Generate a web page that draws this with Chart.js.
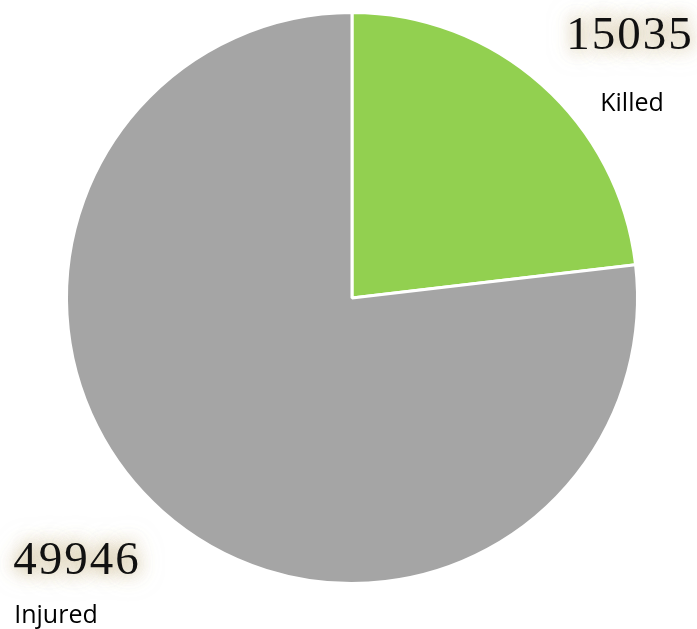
<!DOCTYPE html>
<html>
<head>
<meta charset="utf-8">
<script src="https://cdn.jsdelivr.net/npm/chart.js@4"></script>
<style>
  html, body { margin: 0; padding: 0; background: #ffffff; }
  #casualties { display: block; }
</style>
</head>
<body>
<canvas id="casualties" width="697" height="629"></canvas>
<script>
const categories = ["Killed", "Injured"]
const counts = [15035, 49946]
const slice_colors = ["#92d050", "#a5a5a5"]

// value + caption for each slice, placed around the pie
const label_spots = [
    {x: 630, y: 37, cap_x: 632, cap_y: 104},
    {x: 77, y: 562, cap_x: 56, cap_y: 616}
]

const sliceLabels = {
    id: 'sliceLabels',
    afterDraw(chart) {
        const ctx = chart.ctx
        const values = chart.data.datasets[0].data
        ctx.save()
        ctx.textAlign = 'center'
        ctx.textBaseline = 'middle'
        values.forEach((value, i) => {
            const spot = label_spots[i]
            const text = String(value)
            ctx.font = '47px "Liberation Serif", serif'
            ctx.letterSpacing = '2px'
            // beige glow: text drawn off canvas, only its shadow lands here
            ctx.fillStyle = '#000000'
            ctx.shadowOffsetX = 2000
            ctx.shadowColor = 'rgba(205, 190, 150, 0.6)'
            ctx.shadowBlur = 26
            ctx.fillText(text, spot.x - 2000, spot.y)
            ctx.shadowColor = 'rgba(205, 190, 150, 0.75)'
            ctx.shadowBlur = 16
            ctx.fillText(text, spot.x - 2000, spot.y)
            ctx.fillText(text, spot.x - 2000, spot.y)
            ctx.shadowBlur = 0
            ctx.shadowOffsetX = 0
            ctx.shadowColor = 'transparent'
            ctx.fillStyle = '#111111'
            ctx.fillText(text, spot.x, spot.y)

            ctx.letterSpacing = '0px'
            ctx.font = '25px "Open Sans", sans-serif'
            ctx.fillStyle = '#000000'
            ctx.fillText(chart.data.labels[i], spot.cap_x, spot.cap_y)
        })
        ctx.restore()
    }
}

new Chart(document.getElementById('casualties'), {
    type: 'pie',
    data: {
        labels: categories,
        datasets: [{
            data: counts,
            backgroundColor: slice_colors,
            borderColor: '#ffffff',
            borderWidth: 3,
            hoverOffset: 0,
        }]
    },
    options: {
        responsive: false,
        animation: false,
        layout: {
            padding: {left: 65, right: 58, top: 11, bottom: 44}
        },
        plugins: {
            legend: { display: false },
            tooltip: { enabled: false },
        },
    },
    plugins: [sliceLabels]
});
</script>
</body>
</html>
